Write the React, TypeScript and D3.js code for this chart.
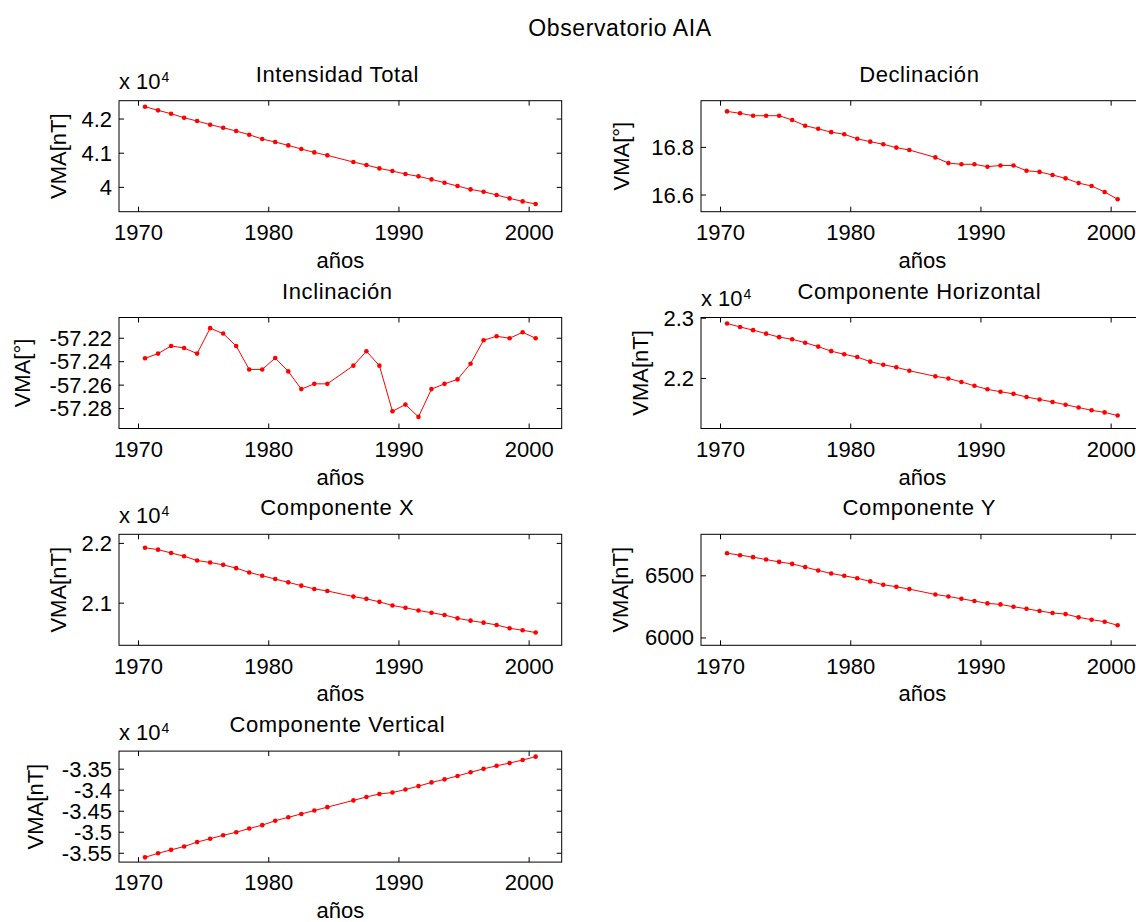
import React from "react";
import * as d3 from "d3";

// años (no hay dato en 1985.5)
const years = [
  1970.5, 1971.5, 1972.5, 1973.5, 1974.5, 1975.5, 1976.5, 1977.5, 1978.5, 1979.5,
  1980.5, 1981.5, 1982.5, 1983.5, 1984.5, 1986.5, 1987.5, 1988.5, 1989.5, 1990.5,
  1991.5, 1992.5, 1993.5, 1994.5, 1995.5, 1996.5, 1997.5, 1998.5, 1999.5, 2000.5,
];
const xTicks = [1970, 1980, 1990, 2000];
const xDomain = [1968.5, 2002.5];

// valores medios anuales
const intensidadTotal = [
  42361, 42254, 42156, 42039, 41941, 41834, 41746, 41649, 41541, 41415,
  41327, 41229, 41122, 41024, 40937, 40741, 40654, 40556, 40478, 40390,
  40322, 40234, 40137, 40039, 39941, 39873, 39776, 39678, 39590, 39512,
];
const declinacion = [
  16.951, 16.943, 16.933, 16.933, 16.933, 16.915, 16.891, 16.878, 16.864, 16.855,
  16.836, 16.824, 16.813, 16.799, 16.789, 16.758, 16.734, 16.729, 16.729, 16.719,
  16.724, 16.724, 16.702, 16.697, 16.684, 16.67, 16.65, 16.638, 16.613, 16.582,
];
const inclinacion = [
  -57.2371, -57.2331, -57.2266, -57.2283, -57.2331, -57.2114, -57.216, -57.2266, -57.2466, -57.2466,
  -57.2369, -57.2483, -57.2634, -57.2589, -57.2589, -57.2434, -57.2311, -57.2434, -57.2823, -57.2766,
  -57.2871, -57.2634, -57.2589, -57.2551, -57.2417, -57.2217, -57.2183, -57.22, -57.2149, -57.22,
];
const compHorizontal = [
  22913, 22855, 22802, 22744, 22686, 22651, 22593, 22529, 22453, 22401,
  22355, 22279, 22227, 22186, 22128, 22035, 22000, 21942, 21878, 21820,
  21779, 21744, 21692, 21651, 21610, 21564, 21517, 21471, 21436, 21384,
];
const compX = [
  21928, 21895, 21840, 21785, 21713, 21680, 21641, 21586, 21514, 21459,
  21403, 21348, 21293, 21238, 21204, 21110, 21072, 21022, 20961, 20923,
  20878, 20840, 20801, 20746, 20707, 20674, 20635, 20580, 20547, 20508,
];
const compY = [
  6682, 6666, 6650, 6631, 6612, 6596, 6570, 6543, 6519, 6500,
  6481, 6455, 6428, 6412, 6393, 6350, 6334, 6315, 6297, 6278,
  6270, 6251, 6235, 6217, 6201, 6192, 6166, 6147, 6131, 6102,
];
const compVertical = [
  -35597, -35500, -35419, -35339, -35234, -35153, -35073, -35000, -34911, -34831,
  -34726, -34645, -34565, -34484, -34403, -34242, -34161, -34089, -34056, -33984,
  -33903, -33815, -33742, -33661, -33573, -33492, -33419, -33355, -33282, -33202,
];

// limites y marcas del eje y
const ticksIntensidad = [40000, 41000, 42000];
const ticksDeclinacion = [16.6, 16.8];
const ticksInclinacion = [-57.28, -57.26, -57.24, -57.22];
const ticksHorizontal = [22000, 23000];
const ticksX = [21000, 22000];
const ticksY = [6000, 6500];
const ticksVertical = [-35500, -35000, -34500, -34000, -33500];

const domIntensidad = [39288, 42537];
const domDeclinacion = [16.53, 16.996];
const domInclinacion = [-57.297, -57.2023];
const domHorizontal = [21169, 23012];
const domX = [20295, 22152];
const domY = [5941, 6834];
const domVertical = [-35710, -33070];

const FONT = '"Liberation Sans", Arial, Helvetica, sans-serif';
const FS = 22;
const W = 442.7;
const H = 111;
const colX = [119, 701];
const rowY = [100.7, 317.5, 534.3, 751.1];

type PanelProps = {
  title: string;
  values: number[];
  domain: number[];
  ticks: number[];
  exp: number;
  ylabel: string;
  labelOffset: number;
  col: number;
  row: number;
};

const Panel = ({ title, values, domain, ticks, exp, ylabel, labelOffset, col, row }: PanelProps) => {
  const left = colX[col];
  const top = rowY[row];
  const x = d3.scaleLinear().domain(xDomain).range([0, W]);
  const y = d3.scaleLinear().domain(domain).range([H, 0]);
  const line = d3
    .line<number>()
    .x((d, i) => x(years[i]))
    .y((d) => y(d));
  const fmt = (v: number) => String(+(v / Math.pow(10, exp)).toPrecision(6));
  const tl = 5;

  return (
    <g transform={`translate(${left},${top})`} fontFamily={FONT} fontSize={FS} fill="#000">
      <text x={W / 2 - 3} y={-19} textAnchor="middle" letterSpacing={0.6}>{title}</text>
      {exp > 0 && (
        <text x={0} y={-11.4}>
          x 10<tspan fontSize={14} dx={1} dy={-7}>{exp}</tspan>
        </text>
      )}
      <rect x={0} y={0} width={W} height={H} fill="none" stroke="#000" strokeWidth={1} />
      {xTicks.map((t) => (
        <g key={t}>
          <line x1={x(t)} x2={x(t)} y1={H} y2={H - tl} stroke="#000" />
          <line x1={x(t)} x2={x(t)} y1={0} y2={tl} stroke="#000" />
          <text x={x(t)} y={H + 28.3} textAnchor="middle">{t}</text>
        </g>
      ))}
      {ticks.map((t) => (
        <g key={t}>
          <line x1={0} x2={tl} y1={y(t)} y2={y(t)} stroke="#000" />
          <line x1={W} x2={W - tl} y1={y(t)} y2={y(t)} stroke="#000" />
          <text x={-7} y={y(t)} textAnchor="end" dominantBaseline="central">{fmt(t)}</text>
        </g>
      ))}
      <text x={W / 2} y={H + 56} textAnchor="middle">años</text>
      <text
        transform={`translate(${-labelOffset},${H / 2}) rotate(-90)`}
        textAnchor="middle"
        dominantBaseline="central"
      >
        {ylabel}
      </text>
      <path d={line(values) || ""} fill="none" stroke="#ff0000" strokeWidth={1} />
      {values.map((v, i) => (
        <circle key={i} cx={x(years[i])} cy={y(v)} r={2.3} fill="#ff0000" />
      ))}
    </g>
  );
};

const App = () => (
  <svg
    width={1136}
    height={922}
    style={{ position: "absolute", left: 0, top: 0, background: "#fff" }}
  >
    <rect width={1136} height={922} fill="#fff" />
    <text x={620} y={36} textAnchor="middle" fontFamily={FONT} fontSize={23} letterSpacing={0.6}>
      Observatorio AIA
    </text>
    <Panel title="Intensidad Total" values={intensidadTotal} domain={domIntensidad} ticks={ticksIntensidad} exp={4} ylabel="VMA[nT]" labelOffset={61} col={0} row={0} />
    <Panel title="Declinación" values={declinacion} domain={domDeclinacion} ticks={ticksDeclinacion} exp={0} ylabel="VMA[°]" labelOffset={80} col={1} row={0} />
    <Panel title="Inclinación" values={inclinacion} domain={domInclinacion} ticks={ticksInclinacion} exp={0} ylabel="VMA[°]" labelOffset={97} col={0} row={1} />
    <Panel title="Componente Horizontal" values={compHorizontal} domain={domHorizontal} ticks={ticksHorizontal} exp={4} ylabel="VMA[nT]" labelOffset={61} col={1} row={1} />
    <Panel title="Componente X" values={compX} domain={domX} ticks={ticksX} exp={4} ylabel="VMA[nT]" labelOffset={61} col={0} row={2} />
    <Panel title="Componente Y" values={compY} domain={domY} ticks={ticksY} exp={0} ylabel="VMA[nT]" labelOffset={81} col={1} row={2} />
    <Panel title="Componente Vertical" values={compVertical} domain={domVertical} ticks={ticksVertical} exp={4} ylabel="VMA[nT]" labelOffset={84} col={0} row={3} />
  </svg>
);

export default App;
